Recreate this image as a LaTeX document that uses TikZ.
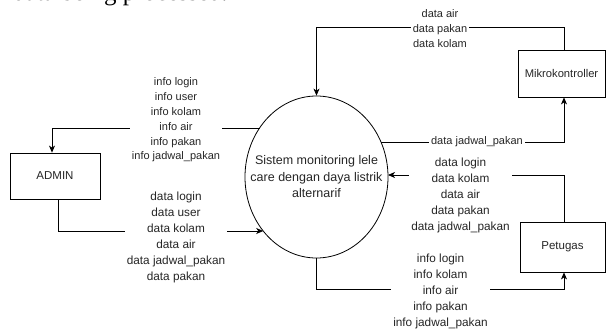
\documentclass[tikz,border=0pt]{standalone}
\usepackage{fontspec}
\setmainfont{Liberation Sans}
\newfontfamily\docserif{Liberation Serif}
\usetikzlibrary{arrows.meta,shapes.geometric}
\tikzset{
  conn/.style={draw=black, line width=0.8pt, -{Stealth[length=7pt,width=6pt,inset=2pt]}},
  entity/.style={draw=black, line width=0.8pt, rectangle, inner sep=0pt, text=black!85,
                 font=\fontsize{11.5}{14}\selectfont},
  lbl/.style={fill=white, align=center, inner xsep=2pt, inner ysep=0pt, text=black!85},
  lblA/.style={lbl, font=\fontsize{11}{14.8}\selectfont},
  lblB/.style={lbl, font=\fontsize{11.8}{15.9}\selectfont},
}
\begin{document}
\begin{tikzpicture}[x=1pt,y=-1pt]
\useasboundingbox (0,0) rectangle (606,329);
\clip (0,0) rectangle (606,329);
\fill[white] (0,0) rectangle (606,329);

% cropped document text at top
\node[anchor=base west, inner sep=0pt, font=\docserif\fontsize{25}{30}\selectfont] (doctext) at (13,0.4) {data being processed.};

% process
\node[draw=black, line width=0.8pt, ellipse, inner sep=0pt, minimum width=143pt, minimum height=162pt] (sys) at (316.5,177) {};
\node[align=center, inner sep=0pt, text=black!85, font=\fontsize{12.5}{16.5}\selectfont] (systext) at (sys.center)
  {Sistem monitoring lele\\care dengan daya listrik\\alternarif};

% entities
\node[entity, minimum width=90pt, minimum height=46pt] (admin) at (55,176) {ADMIN};
\node[entity, minimum width=87pt, minimum height=47pt, font=\fontsize{11.2}{14}\selectfont] (mikro) at (561.5,73.5) {Mikrokontroller};
\node[entity, minimum width=85pt, minimum height=50pt] (petugas) at (562.5,247) {Petugas};

% points on the ellipse border
\coordinate (sA) at ([shift={(-56.9,-49)}]sys.center);
\coordinate (sB) at ([shift={(-53.3,54)}]sys.center);
\coordinate (sC) at ([shift={(64.5,-35)}]sys.center);
\coordinate (sD) at ([shift={(71.5,-2)}]sys.center);

% connector ends on the boxes
\coordinate (adminIn) at ([xshift=-3pt]admin.north);
\coordinate (adminOut) at ([xshift=3pt]admin.south);
\coordinate (mikroTop) at ([xshift=2.5pt]mikro.north);
\coordinate (mikroBot) at ([xshift=2.5pt]mikro.south);
\coordinate (petTop) at ([xshift=1.5pt]petugas.north);
\coordinate (petBot) at ([xshift=1.5pt]petugas.south);

\draw[conn] (sA) -| (adminIn);
\draw[conn] (adminOut) |- (sB);
\draw[conn] (mikroTop) -- ++(0,-22) -| (sys.north);
\draw[conn] (sC) -| (mikroBot);
\draw[conn] (petTop) |- (sD);
\draw[conn] (sys.south) -- ++(0,31) -| (petBot);

% labels
\node[lblA] (l1) at (176,120) {info login\\info user\\info kolam\\info air\\info pakan\\info jadwal\_pakan};
\node[lblB] (l2) at (176,237.5) {data login\\data user\\data kolam\\data air\\data jadwal\_pakan\\data pakan};
\node[lblA] (l3) at (440,28.5) {data air\\data pakan\\data kolam};
\node[lblA] (l4) at (477,142) {data jadwal\_pakan};
\node[lblB, font=\fontsize{11.8}{16.2}\selectfont] (l5) at (460.5,195.5) {data login\\data kolam\\data air\\data pakan\\data jadwal\_pakan};
\node[lblB, font=\fontsize{11.8}{16}\selectfont] (l6) at (440.5,291) {info login\\info kolam\\info air\\info pakan\\info jadwal\_pakan};
\end{tikzpicture}
\end{document}
